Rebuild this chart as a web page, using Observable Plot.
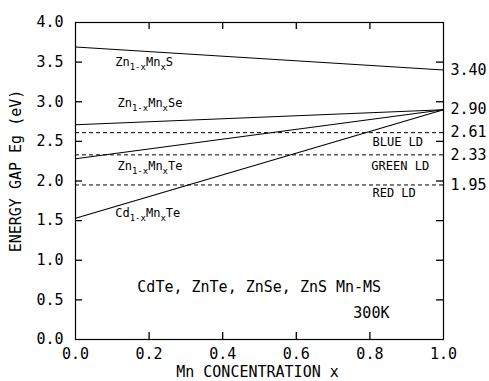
<!DOCTYPE html>
<html><head><meta charset="utf-8">
<script src="https://cdn.jsdelivr.net/npm/d3@7"></script>
<script src="https://cdn.jsdelivr.net/npm/@observablehq/plot@0.6"></script>
<style>body{margin:0;background:#fff;} svg{display:block}</style>
</head><body><div id="chart"></div>
<script>
// --- data ---
const xEnds = [0, 1];
const seriesNames = ["ZnS", "ZnSe", "ZnTe", "CdTe"];
const znsGap = [3.69, 3.40];
const znseGap = [2.71, 2.90];
const znteGap = [2.28, 2.90];
const cdteGap = [1.53, 2.90];
const ldLevels = [2.61, 2.33, 1.95];
const ldNames = ["BLUE LD", "GREEN LD", "RED LD"];
const rightLabels = [3.40, 2.90, 2.61, 2.33, 1.95];
const yTicks = [0, 0.5, 1, 1.5, 2, 2.5, 3, 3.5, 4];
const xTicks = [0, 0.2, 0.4, 0.6, 0.8, 1.0];
const formulaNames = ["Zn{1-x}Mn{x}S", "Zn{1-x}Mn{x}Se", "Zn{1-x}Mn{x}Te", "Cd{1-x}Mn{x}Te"];
const formulaX = [0.108, 0.114, 0.114, 0.108];
const formulaY = [3.50, 2.98, 2.19, 1.59];
const ldLabelX = [0.807, 0.804, 0.807];
const ldLabelY = [2.49, 2.19, 1.85];
const noteText = ["CdTe, ZnTe, ZnSe, ZnS Mn-MS", "300K"];
const noteX = [0.168, 0.755];
const noteY = [0.66, 0.33];
const xLabel = "Mn CONCENTRATION x";
const yLabel = "ENERGY GAP Eg (eV)";

// --- tables built from arrays ---
const gaps = [znsGap, znseGap, znteGap, cdteGap];
const lineRows = seriesNames.flatMap((n, i) => xEnds.map((x, j) => ({name: n, x, y: gaps[i][j]})));
const formulas = formulaNames.map((t, i) => ({t, x: formulaX[i], y: formulaY[i]}));
const ldLabels = ldNames.map((t, i) => ({t, x: ldLabelX[i], y: ldLabelY[i]}));
const notes = noteText.map((t, i) => ({t, x: noteX[i], y: noteY[i]}));

const FONT = "DejaVu Sans Mono";
const W = 489, H = 381, ML = 75, MR = 46, MT = 22, MB = 42;
const PW = W - ML - MR, PH = H - MT - MB, TICK = 7;
const inner = yTicks.slice(1, -1);
const innerX = xTicks.slice(1, -1);

const plot = Plot.plot({
  width: W,
  height: H,
  marginLeft: ML,
  marginRight: MR,
  marginTop: MT,
  marginBottom: MB,
  style: {fontFamily: FONT, fontSize: "15px", color: "#000", background: "#fff"},
  x: {domain: [0, 1]},
  y: {domain: [0, 4]},
  marks: [
    Plot.ruleY(ldLevels, {stroke: "#000", strokeDasharray: "4,3", strokeWidth: 1}),
    Plot.line(lineRows, {x: "x", y: "y", z: "name", stroke: "#000", strokeWidth: 1.1}),
    Plot.frame({stroke: "#000", strokeWidth: 1.2}),
    // inward tick marks
    Plot.tickY(inner, {y: d => d, stroke: "#000", strokeWidth: 1.3, insetRight: PW - TICK}),
    Plot.tickY(inner, {y: d => d, stroke: "#000", strokeWidth: 1.3, insetLeft: PW - TICK}),
    Plot.tickX(innerX, {x: d => d, stroke: "#000", strokeWidth: 1.3, insetBottom: PH - TICK}),
    Plot.tickX(innerX, {x: d => d, stroke: "#000", strokeWidth: 1.3, insetTop: PH - TICK}),
    // tick labels
    Plot.axisY({anchor: "left", ticks: yTicks, tickSize: 0, tickPadding: 12, tickFormat: ".1f", label: null, fontSize: 15}),
    Plot.axisY({anchor: "right", ticks: rightLabels, tickSize: 0, tickPadding: 7, tickFormat: ".2f", label: null, fontSize: 15}),
    Plot.axisX({anchor: "bottom", ticks: xTicks, tickSize: 0, tickPadding: 9, tickFormat: ".1f", label: null, fontSize: 15}),
    // annotations
    Plot.text(formulas, {x: "x", y: "y", text: "t", textAnchor: "start", fontSize: 12, fill: "#000"}),
    Plot.text(ldLabels, {x: "x", y: "y", text: "t", textAnchor: "start", fontSize: 12, fill: "#000"}),
    Plot.text(notes, {x: "x", y: "y", text: "t", textAnchor: "start", fontSize: 15, fill: "#000"}),
    Plot.text([xLabel], {text: d => d, frameAnchor: "bottom", textAnchor: "middle", lineAnchor: "middle", dy: 33, dx: -2, fontSize: 15, fill: "#000"}),
    Plot.text([yLabel], {text: d => d, frameAnchor: "left", textAnchor: "middle", lineAnchor: "middle", dx: -59, dy: -10, rotate: -90, fontSize: 15, fill: "#000"})
  ]
});

// render subscripts ({...}) as tspans
d3.select(plot).selectAll("text").each(function() {
  const t = this.textContent;
  if (!t.includes("{")) return;
  const parts = t.split(/(\{[^}]*\})/).filter(p => p.length);
  const sel = d3.select(this);
  sel.text(null);
  let shifted = false;
  for (const p of parts) {
    if (p.startsWith("{")) {
      sel.append("tspan").attr("font-size", 9).attr("dy", shifted ? 0 : 4).text(p.slice(1, -1));
      shifted = true;
    } else {
      sel.append("tspan").attr("dy", shifted ? -4 : 0).text(p);
      shifted = false;
    }
  }
});

document.getElementById("chart").appendChild(plot);
</script>
</body></html>
